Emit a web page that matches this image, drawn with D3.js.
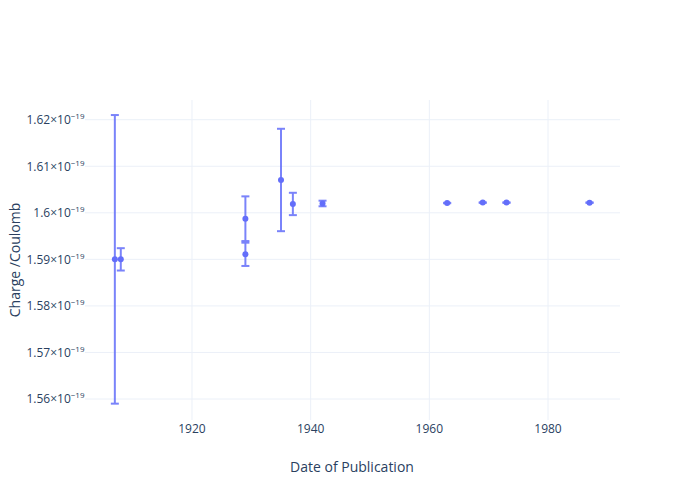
<!DOCTYPE html>
<html>
<head>
<meta charset="utf-8">
<script src="https://cdn.jsdelivr.net/npm/d3@7"></script>
<style>
  html, body { margin: 0; padding: 0; background: #fff; }
  svg text { font-family: "Open Sans", "Noto Sans", sans-serif; }
</style>
</head>
<body>
<svg id="chart" width="700" height="500"></svg>
<script>
// Data (charge in units of 1e-19 C)
const years  = [1907, 1908, 1929, 1929, 1935, 1937, 1942, 1963, 1969, 1973, 1987];
const charge = [1.5900, 1.5900, 1.59873, 1.59108, 1.60705, 1.60190, 1.60200, 1.60210, 1.60219, 1.60219, 1.60218];
const errors = [0.0310, 0.0024, 0.0048, 0.0025, 0.0110, 0.0024, 0.0006, 0.00005, 0.00005, 0.00005, 0.00005];
const xTicks = [1920, 1940, 1960, 1980];
const yTicks = [1.56, 1.57, 1.58, 1.59, 1.60, 1.61, 1.62];
const yTickLabels = ["1.56", "1.57", "1.58", "1.59", "1.6", "1.61", "1.62"];
const exponentLabel = "−19";
const xTitle = "Date of Publication";
const yTitle = "Charge /Coulomb";

const color = "#636efa";
const textColor = "#2a3f5f";
const gridColor = "#ebf0f8";

const svg = d3.select("#chart");
const plot = { left: 85, right: 620, top: 100, bottom: 420 };

const x = d3.scaleLinear().domain([1901.97, 1992.13]).range([plot.left, plot.right]);
const y = d3.scaleLinear().domain([1.555489, 1.624232]).range([plot.bottom, plot.top]);

// Grid
const g = svg.append("g");
g.selectAll("line.xg").data(xTicks).enter().append("line")
  .attr("x1", d => x(d)).attr("x2", d => x(d))
  .attr("y1", plot.top).attr("y2", plot.bottom)
  .attr("stroke", gridColor).attr("stroke-width", 1);
g.selectAll("line.yg").data(yTicks).enter().append("line")
  .attr("x1", plot.left).attr("x2", plot.right)
  .attr("y1", d => y(d)).attr("y2", d => y(d))
  .attr("stroke", gridColor).attr("stroke-width", 1);

// X axis tick labels
svg.append("g").selectAll("text").data(xTicks).enter().append("text")
  .attr("x", d => x(d)).attr("y", 433)
  .attr("text-anchor", "middle")
  .attr("font-size", 12).attr("fill", textColor)
  .text(d => d);

// Y axis tick labels with superscript
const yl = svg.append("g").selectAll("text").data(yTicks).enter().append("text")
  .attr("x", 84.5).attr("y", d => y(d) + 4.3)
  .attr("text-anchor", "end")
  .attr("font-size", 12).attr("fill", textColor);
yl.append("tspan").text((d, i) => yTickLabels[i] + "×10");
yl.append("tspan").attr("font-size", 8).attr("dy", -5).text(exponentLabel);

// Axis titles
svg.append("text")
  .attr("x", 352).attr("y", 472)
  .attr("text-anchor", "middle").attr("font-size", 14).attr("fill", textColor)
  .text(xTitle);
svg.append("text")
  .attr("transform", "translate(20,260) rotate(-90)")
  .attr("text-anchor", "middle").attr("font-size", 14).attr("fill", textColor)
  .text(yTitle);

// Error bars
const data = years.map((yr, i) => ({ yr, v: charge[i], e: errors[i] }));
const eb = svg.append("g").attr("stroke", color).attr("stroke-width", 2).attr("opacity", 0.85);
data.forEach(d => {
  const cx = x(d.yr), y1 = y(d.v + d.e), y2 = y(d.v - d.e);
  eb.append("line").attr("x1", cx).attr("x2", cx).attr("y1", y1).attr("y2", y2);
  eb.append("line").attr("x1", cx - 4).attr("x2", cx + 4).attr("y1", y1).attr("y2", y1);
  eb.append("line").attr("x1", cx - 4).attr("x2", cx + 4).attr("y1", y2).attr("y2", y2);
});

// Markers
svg.append("g").selectAll("circle").data(data).enter().append("circle")
  .attr("cx", d => x(d.yr)).attr("cy", d => y(d.v)).attr("r", 3)
  .attr("fill", color);
</script>
</body>
</html>
